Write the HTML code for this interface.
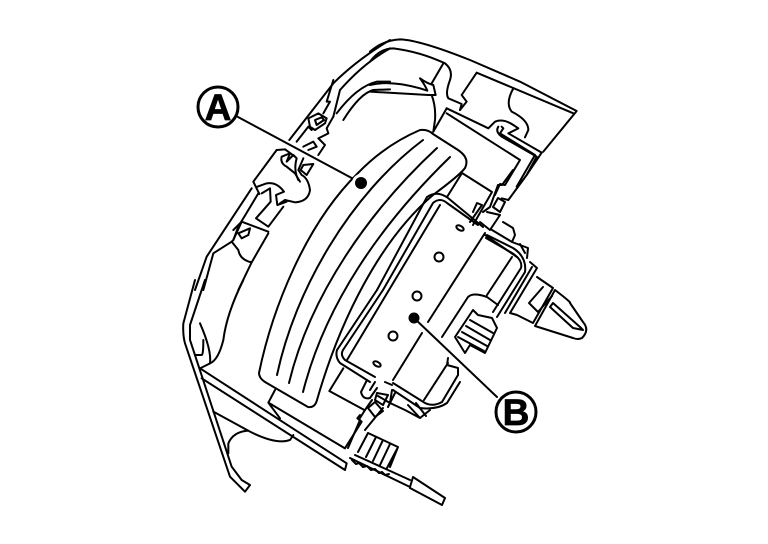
<!DOCTYPE html>
<html><head><meta charset="utf-8"><style>
html,body{margin:0;padding:0;background:#fff;width:768px;height:544px;overflow:hidden}
svg{display:block}
text{font-family:"Liberation Sans",sans-serif;font-weight:bold;font-size:37px;fill:#000;text-anchor:middle;stroke:#000;stroke-width:.7}
</style></head><body>
<svg width="768" height="544" viewBox="0 0 768 544" fill="none" stroke="#000" stroke-width="2" stroke-linejoin="round" stroke-linecap="round">
<!-- Housing top left -->
<g transform="translate(170 30) scale(.33333)" stroke-width="6">
<path d="M358 330L490 160Q560 90 660 30"/>
<path d="M490 260L510 180Q580 100 660 55"/>
<path d="M500 250Q560 170 620 155L660 155"/>
<path d="M520 270Q570 190 610 180L660 178"/>
<path d="M490 150L470 215L480 215L460 250"/>
<path d="M320 360L250 455L268 492"/>
<path d="M320 360L345 358L375 380M335 380Q330 400 350 410L375 430L390 455M335 380L360 370L350 395L370 375L380 385Q370 420 385 450"/>
<path d="M400 385L385 420L395 435Q415 445 420 480Q415 515 375 517L345 510L330 520"/>
<path d="M430 402L400 405L392 420L410 435Z"/>
<path d="M262 470L290 460Q320 455 342 485L318 495L322 525L350 515M275 490L300 475L302 515L258 565L295 590L340 530"/>
<path d="M245 475L110 680L75 780M265 490L205 590L190 630L185 635L130 670L100 780"/>
<path d="M205 660Q210 690 245 697M295 610L245 697L205 780M185 635L205 660"/>
<path d="M190 600L215 575L190 630M205 610L240 595L235 615L215 625ZM215 575L295 605"/>
<path d="M380 335L415 290L425 300M415 265L445 250L470 265L465 280L435 300L420 290ZM435 270L455 262L462 270L440 285ZM490 260L470 295L475 310L445 325L465 345L445 375M400 350L430 335L440 350L415 360"/>
</g>
<!-- Housing top right -->
<g transform="translate(370 30) scale(.33333)" stroke-width="6">
<path d="M0 65Q40 30 90 28Q150 30 300 90L450 155L620 243L520 365"/>
<path d="M0 95Q30 55 70 55Q150 65 225 100Q250 120 240 150Q225 190 235 205L275 222L270 240"/>
<path d="M320 128L275 195L290 215L270 240M320 128L610 250"/>
<path d="M430 175Q405 220 425 245Q475 270 475 300L465 322"/>
<path d="M220 100L185 160M0 165Q60 150 150 175L172 182Q165 165 150 145Q170 160 190 165L197 195L175 195L0 185M185 195Q198 230 195 270L190 305"/>
<path d="M230 235L355 295L375 275Q400 265 430 285L445 295L415 310L515 368"/>
<path d="M230 235L190 305M230 250L450 390L405 465L390 462L375 495"/>
<path d="M385 290Q375 305 395 320L500 380L470 435L415 510L395 505M395 290L400 295L390 310L495 375L440 470"/>
<path d="M515 368L470 435"/>
</g>
<!-- Pad -->
<path d="M358 173C305 225 272 310 259 373Q259 378 265 382L308 407Q315 408 317 400C340 320 380 240 433 195Q460 175 465 168Q470 158 458 150L433 134Q428 129 420 130Q385 145 358 173"/>
<path d="M277 375C295 290 350 195 423 140"/>
<path d="M289 383C310 295 370 210 437 148"/>
<path d="M303 392C325 305 380 225 450 157"/>
<!-- Lower housing -->
<g transform="translate(170 280) scale(.33333)" stroke-width="6">
<path d="M75 0L40 130Q38 165 45 190L180 590L225 635L240 615L215 600L185 560L60 180L60 135L105 0"/>
<path d="M90 130Q125 210 120 250L90 265M100 180Q100 225 95 225L75 225"/>
<path d="M220 0Q170 100 160 180Q145 240 120 250"/>
<path d="M90 265L530 550L525 570L95 295"/>
<path d="M130 395L240 455Q320 495 360 480L370 465M235 452Q190 455 175 490L175 520"/>
<path d="M295 368L525 505L575 425L562 415L570 405M315 330L295 368L330 415"/>
<path d="M520 265L478 333L583 390"/>
</g>
<!-- Frame -->
<path d="M377 290L427 197Q437 190 448 198L483 227M487 235L513 248Q527 257 525 272L497 317M460 382L447 403Q437 410 420 408L393 390M370 382L340 363Q335 357 337 350L377 290"/>
<path d="M383 290L433 203Q440 197 447 203L478 225M486 238L512 253Q523 260 521 268L493 312M458 375L442 402Q433 407 425 403L393 383M375 377L345 360Q340 355 343 350L383 290"/>
<path d="M440 205L347 360"/>
<path d="M485 233L428 322M422 333L393 380"/>
<path d="M442 337L468 297Q473 292 487 297L498 305M487 295L512 257"/>
<path d="M424 400L448 363M448 358L447 365L458 368L458 375"/>
<!-- Top tabs -->
<path d="M462 173L492 192L473 225M462 173L447 197M502 185L513 170M502 185L498 185L490 207L483 212M473 212L477 203L482 205L470 222M498 198L505 202L500 212L493 207ZM487 212L500 215L490 230L480 222M503 222L513 228L515 235L512 242L528 248L527 258M520 244L525 253M485 235L517 257M492 230L512 242"/>
<!-- Bottom tabs -->
<path d="M390 403L405 410L420 418L430 410M408 405L420 418M416 403L426 416M392 390L390 403L378 396"/>
<path d="M367 380L361 392Q363 400 370 398L377 388M370 390L375 382M377 393L388 395L383 405L375 400ZM368 408L375 402L383 411L375 417ZM395 393L388 407M392 385L385 382"/>
<path d="M360 418L365 410L372 400M365 430L383 408M348 448L360 420"/>
<!-- Holes -->
<ellipse cx="460" cy="228" rx="4" ry="2.2" transform="rotate(30 460 228)"/>
<circle cx="439" cy="257" r="4.5"/>
<circle cx="417" cy="296" r="4.5"/>
<circle cx="393" cy="336" r="4.5"/>
<ellipse cx="377" cy="364" rx="4" ry="2.2" transform="rotate(30 377 364)"/>
<!-- Center connector -->
<path d="M455 337L473 310L478 315L492 318L497 328L485 353L470 345L465 353L460 345Z"/>
<path d="M470 320L493 333M466 326L490 340M462 332L487 346M458 337L484 351"/>
<!-- Right connector -->
<path d="M530 262L537 268L510 313L517 315L533 323L553 288L537 277M532 267L505 313"/>
<path d="M555 290Q572 303 570 303L583 322Q590 330 582 338Q578 340 573 338L535 326L555 290"/>
<path d="M553 303L580 327L583 330L573 328L550 307ZM543 287L529 303L538 312L552 296"/>
<!-- Bottom connector -->
<path d="M350 458L410 487L413 477L445 498L442 505L410 488M355 455L410 480"/>
<path d="M368 433L398 447L390 467M358 452L368 433M376 437L366 457M383 440L373 461M390 444L380 465M397 449L387 468"/>
<path d="M352 460l4 4 3-1 4 4 4-1 4 4 4-1 4 4 3-1 3 3 4-1"/>
<!-- Callouts -->
<path d="M238 117L361 183"/>
<path d="M414 318L497 397"/>
<circle cx="361" cy="183" r="9" fill="#fff" stroke="none"/>
<circle cx="361" cy="183" r="6" fill="#000" stroke="none"/>
<circle cx="414" cy="318" r="5.5" fill="#000" stroke="none"/>
<circle cx="218" cy="107" r="20" fill="#fff" stroke-width="3"/>
<circle cx="516" cy="412" r="20" fill="#fff" stroke-width="3"/>
<text x="218" y="120">A</text>
<text x="516" y="425">B</text>
</svg>
</body></html>
